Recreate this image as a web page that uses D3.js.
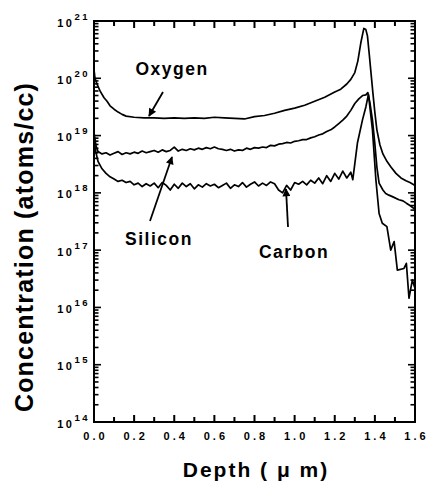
<!DOCTYPE html>
<html>
<head>
<meta charset="utf-8">
<script src="https://d3js.org/d3.v7.min.js"></script>
<style>
  body { margin: 0; background: #fff; }
  svg text { font-family: "Liberation Sans", Arial, sans-serif; font-weight: bold; fill: #000; }
</style>
</head>
<body>
<script type="text/javascript">
// depth in micrometres, concentration stored as log10(atoms/cc)
let oxygenDepth = [0, 0.005, 0.015, 0.03, 0.05, 0.065, 0.08, 0.10, 0.12, 0.14, 0.16, 0.20, 0.25, 0.30, 0.35, 0.40, 0.45, 0.50, 0.55, 0.60, 0.65, 0.70, 0.75, 0.80, 0.85, 0.90, 0.95, 1.00, 1.05, 1.10, 1.15, 1.20, 1.23, 1.26, 1.28, 1.30, 1.315, 1.33, 1.345, 1.355, 1.363, 1.372, 1.38, 1.39, 1.40, 1.41, 1.425, 1.44, 1.46, 1.48, 1.505, 1.53, 1.555, 1.575, 1.60];
let oxygenLog = [20.15, 20.0, 19.9, 19.78, 19.66, 19.6, 19.52, 19.46, 19.41, 19.37, 19.34, 19.32, 19.31, 19.31, 19.30, 19.31, 19.30, 19.31, 19.30, 19.32, 19.31, 19.30, 19.29, 19.33, 19.35, 19.39, 19.44, 19.48, 19.53, 19.60, 19.67, 19.76, 19.81, 19.90, 19.98, 20.10, 20.30, 20.62, 20.87, 20.85, 20.74, 20.42, 20.12, 19.75, 19.40, 19.10, 18.84, 18.68, 18.55, 18.45, 18.34, 18.26, 18.21, 18.18, 18.13];

let siliconDepth = [0, 0.01, 0.02, 0.04, 0.06, 0.08, 0.10, 0.12, 0.14, 0.16, 0.18, 0.20, 0.22, 0.24, 0.26, 0.28, 0.30, 0.32, 0.34, 0.36, 0.38, 0.40, 0.42, 0.44, 0.46, 0.48, 0.50, 0.52, 0.54, 0.56, 0.58, 0.60, 0.62, 0.64, 0.66, 0.68, 0.70, 0.72, 0.74, 0.76, 0.78, 0.80, 0.82, 0.84, 0.86, 0.88, 0.90, 0.92, 0.94, 0.96, 0.98, 1.00, 1.02, 1.04, 1.06, 1.08, 1.10, 1.12, 1.14, 1.16, 1.18, 1.20, 1.22, 1.24, 1.26, 1.28, 1.30, 1.32, 1.34, 1.355, 1.365, 1.375, 1.388, 1.40, 1.41, 1.421, 1.44, 1.454, 1.47, 1.49, 1.52, 1.54, 1.557, 1.575, 1.59, 1.60];
let siliconLog = [19.05, 18.82, 18.72, 18.68, 18.70, 18.66, 18.69, 18.72, 18.67, 18.70, 18.68, 18.71, 18.69, 18.73, 18.70, 18.72, 18.74, 18.71, 18.75, 18.72, 18.74, 18.80, 18.73, 18.76, 18.74, 18.77, 18.75, 18.78, 18.76, 18.79, 18.77, 18.80, 18.77, 18.76, 18.74, 18.76, 18.73, 18.75, 18.74, 18.78, 18.76, 18.79, 18.78, 18.80, 18.79, 18.83, 18.82, 18.85, 18.86, 18.88, 18.87, 18.90, 18.91, 18.93, 18.93, 18.96, 18.98, 19.01, 19.03, 19.07, 19.10, 19.15, 19.21, 19.27, 19.34, 19.44, 19.56, 19.64, 19.70, 19.71, 19.75, 19.58, 19.27, 18.85, 18.45, 18.17, 18.05, 17.99, 17.96, 17.93, 17.88, 17.86, 17.82, 17.78, 17.74, 17.72];

let carbonDepth = [0, 0.01, 0.02, 0.04, 0.06, 0.08, 0.10, 0.12, 0.14, 0.16, 0.18, 0.20, 0.22, 0.24, 0.26, 0.28, 0.30, 0.32, 0.34, 0.36, 0.38, 0.40, 0.42, 0.44, 0.46, 0.48, 0.50, 0.52, 0.54, 0.56, 0.58, 0.60, 0.62, 0.64, 0.66, 0.68, 0.70, 0.72, 0.74, 0.76, 0.78, 0.80, 0.82, 0.84, 0.86, 0.88, 0.90, 0.92, 0.94, 0.96, 0.98, 1.00, 1.02, 1.04, 1.06, 1.08, 1.10, 1.12, 1.14, 1.16, 1.18, 1.20, 1.22, 1.24, 1.26, 1.28, 1.29, 1.313, 1.338, 1.355, 1.368, 1.388, 1.405, 1.421, 1.437, 1.46, 1.479, 1.496, 1.512, 1.545, 1.557, 1.57, 1.587, 1.598];
let carbonLog = [18.9, 18.7, 18.55, 18.42, 18.34, 18.28, 18.24, 18.2, 18.22, 18.18, 18.20, 18.14, 18.17, 18.11, 18.16, 18.12, 18.17, 18.09, 18.18, 18.13, 18.05, 18.15, 18.08, 18.17, 18.11, 18.16, 18.07, 18.14, 18.10, 18.16, 18.12, 18.15, 18.09, 18.13, 18.17, 18.08, 18.14, 18.11, 18.18, 18.10, 18.15, 18.19, 18.12, 18.17, 18.13, 18.19, 18.16, 18.05, 18.00, 18.13, 18.05, 18.18, 18.15, 18.20, 18.14, 18.22, 18.17, 18.26, 18.16, 18.30, 18.20, 18.34, 18.24, 18.38, 18.26, 18.36, 18.23, 18.87, 19.27, 19.50, 19.72, 19.10, 18.23, 17.64, 17.47, 17.41, 17.00, 17.15, 16.65, 16.68, 16.77, 16.16, 16.48, 16.35];

let xTicks = [0, 0.2, 0.4, 0.6, 0.8, 1.0, 1.2, 1.4, 1.6];
let yDecades = [14, 15, 16, 17, 18, 19, 20, 21];

let W = 428, H = 488;
let mLeft = 94, mRight = 415, mTop = 21, mBottom = 422;

let svg = d3.select("body").append("svg")
    .attr("width", W).attr("height", H);

let x = d3.scaleLinear().domain([0, 1.6]).range([mLeft, mRight]);
let y = d3.scaleLog().domain([1e14, 1e21]).range([mBottom, mTop]);

// tick positions
let yMajor = yDecades.map(e => Math.pow(10, e));
let yMinor = [];
yDecades.slice(0, -1).forEach(e => {
    for (let m = 2; m <= 9; m++) yMinor.push(m * Math.pow(10, e));
});
let xMinor = d3.range(1, 16, 2).map(i => i / 10);

// frame
svg.append("rect")
    .attr("x", mLeft).attr("y", mTop)
    .attr("width", mRight - mLeft).attr("height", mBottom - mTop)
    .attr("fill", "none").attr("stroke", "#000").attr("stroke-width", 2);

// inward tick marks on all four sides, drawn after the frame
let tickG = svg.append("g").attr("class", "tickmarks");
function xTickMarks(vals, len) {
    tickG.append("g").selectAll("rect").data(vals).join("rect")
        .attr("x", d => x(d) - 1).attr("y", mBottom - len)
        .attr("width", 2).attr("height", len).attr("fill", "#000");
    tickG.append("g").selectAll("rect").data(vals).join("rect")
        .attr("x", d => x(d) - 1).attr("y", mTop)
        .attr("width", 2).attr("height", len).attr("fill", "#000");
}
function yTickMarks(vals, len) {
    tickG.append("g").selectAll("rect").data(vals).join("rect")
        .attr("x", mLeft).attr("y", d => y(d) - 0.8)
        .attr("width", len).attr("height", 1.6).attr("fill", "#000");
    tickG.append("g").selectAll("rect").data(vals).join("rect")
        .attr("x", mRight - len).attr("y", d => y(d) - 0.8)
        .attr("width", len).attr("height", 1.6).attr("fill", "#000");
}
xTickMarks(xTicks, 7);
xTickMarks(xMinor, 5);
yTickMarks(yMajor, 7);
yTickMarks(yMinor, 4.5);

// x tick labels
svg.append("g").selectAll("text")
    .data(xTicks)
    .join("text")
    .attr("x", d => x(d) + 1.5)
    .attr("y", 440)
    .attr("text-anchor", "middle")
    .attr("font-size", 11)
    .attr("letter-spacing", 3)
    .text(d => d.toFixed(1));

// y tick labels: 10 with superscript exponent
let yl = svg.append("g").selectAll("text")
    .data(yDecades)
    .join("text")
    .attr("x", 90)
    .attr("y", d => y(Math.pow(10, d)) + 5.5)
    .attr("text-anchor", "end")
    .attr("font-size", 11)
    .attr("letter-spacing", 2.5);
yl.append("tspan").text("10");
yl.append("tspan").attr("dy", -7).attr("font-size", 9.5).text(d => d);

// curves
let line = d3.line()
    .x(d => x(d[0]))
    .y(d => y(Math.pow(10, d[1])));

let series = [
    [oxygenDepth, oxygenLog],
    [siliconDepth, siliconLog],
    [carbonDepth, carbonLog]
];
series.forEach(s => {
    svg.append("path")
        .attr("d", line(d3.zip(s[0], s[1])))
        .attr("fill", "none")
        .attr("stroke", "#000")
        .attr("stroke-width", 1.7)
        .attr("stroke-linejoin", "round");
});

// annotations
svg.append("defs").append("marker")
    .attr("id", "head")
    .attr("viewBox", "0 0 10 10")
    .attr("refX", 9).attr("refY", 5)
    .attr("markerWidth", 11).attr("markerHeight", 8)
    .attr("markerUnits", "userSpaceOnUse")
    .attr("orient", "auto")
    .append("path").attr("d", "M0,0 L10,5 L0,10 z").attr("fill", "#000");

let labels = [
    {text: "Oxygen", tx: 172, ty: 75, x1: 163, y1: 92, x2: 149, y2: 116},
    {text: "Silicon", tx: 159, ty: 245, x1: 150, y1: 221, x2: 172, y2: 157},
    {text: "Carbon", tx: 294, ty: 258, x1: 288, y1: 227, x2: 286, y2: 189}
];
labels.forEach(l => {
    svg.append("text")
        .attr("x", l.tx).attr("y", l.ty)
        .attr("text-anchor", "middle")
        .attr("font-size", 17.5)
        .attr("letter-spacing", 1.5)
        .text(l.text);
    svg.append("line")
        .attr("x1", l.x1).attr("y1", l.y1)
        .attr("x2", l.x2).attr("y2", l.y2)
        .attr("stroke", "#000").attr("stroke-width", 1.8)
        .attr("marker-end", "url(#head)");
});

// axis titles
svg.append("text")
    .attr("transform", "translate(33,247) rotate(-90)")
    .attr("text-anchor", "middle")
    .attr("font-size", 25)
    .attr("letter-spacing", 1.2)
    .text("Concentration (atoms/cc)");

svg.append("text")
    .attr("x", 256).attr("y", 477)
    .attr("text-anchor", "middle")
    .attr("font-size", 21)
    .attr("letter-spacing", 2)
    .text("Depth ( \u03bc m)");
</script>
</body>
</html>
